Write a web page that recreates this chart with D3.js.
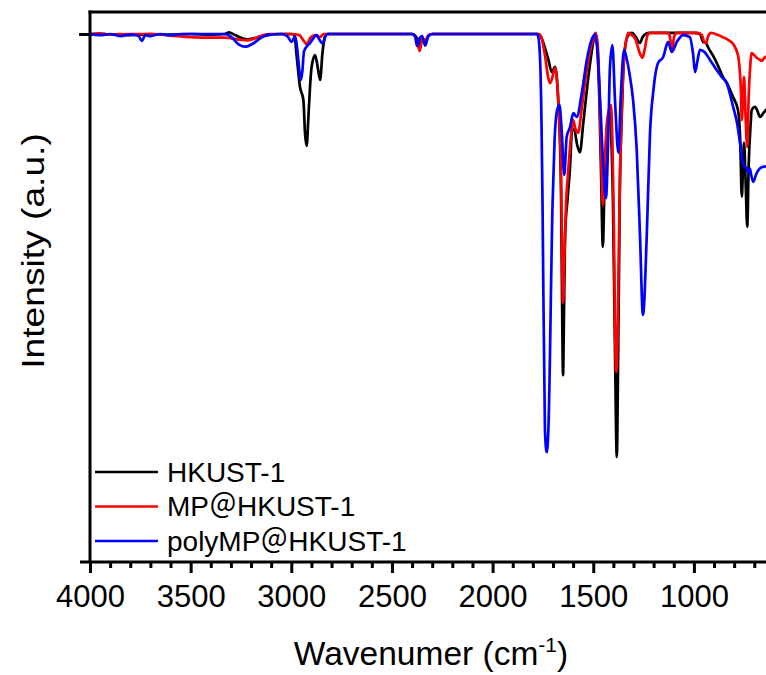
<!DOCTYPE html>
<html>
<head>
<meta charset="utf-8">
<script src="https://cdn.jsdelivr.net/npm/d3@7/dist/d3.min.js"></script>
<style>
  html, body { margin: 0; padding: 0; background: #fff; }
  svg { display: block; }
  text { font-family: "Liberation Sans", Arial, "Noto Sans CJK SC", sans-serif; fill: #000; }
</style>
</head>
<body>
<div id="chart"></div>
<script>
// ---- data (wavenumber cm^-1, intensity a.u.; baseline = 100) ----
const seriesNames = ["HKUST-1", "MP\uFF20HKUST-1", "polyMP\uFF20HKUST-1"];
const seriesColors = ["#000000", "#ff0000", "#0000ff"];

const hkust1 = [
  [4000,100],[3950,100.1],[3900,99.9],[3850,100],[3800,99.8],[3750,99.9],[3700,100],[3600,99.9],
  [3500,100],[3400,99.9],[3330,100],[3310,100.3],[3280,99.8],[3220,99.0],[3160,99.4],[3120,99.8],
  [3050,100],[3000,100],[2985,99.9],[2973,95.7],[2957,90],[2940,87.5],[2932,81.3],[2924,78.8],
  [2915,84.3],[2907,90],[2899,93.8],[2882,96],[2870,94],[2857,91.3],[2845,96.5],[2833,99.5],
  [2820,100],[2500,100],[2400,100],[2375,99.2],[2362,97.9],[2350,99.3],[2335,98.2],[2320,99.6],
  [2300,100],[1800,100],[1775,100],[1760,99.5],[1745,98],[1725,95.5],[1706,92.8],[1690,93.8],
  [1674,87.5],[1660,70],[1655,50],[1650,35.4],[1646,45],[1640,62],[1628,68.6],[1615,75],
  [1605,82],[1595,82],[1580,79],[1566,77.6],[1550,83],[1530,90],[1510,96],[1490,99.8],
  [1480,98],[1470,88],[1462,75],[1452,59.7],[1445,70],[1435,80],[1425,84.5],[1417,85],
  [1410,80],[1402,68],[1392,40],[1383,19.9],[1376,40],[1368,70],[1358,85],[1350,93.5],
  [1335,99],[1320,100],[1307,100.2],[1290,99.5],[1268,98.3],[1255,99.4],[1240,100],[1220,100.2],
  [1100,100.2],[1000,100.2],[970,100],[955,98.5],[940,98.3],[930,97.5],[905,95.9],[880,94],
  [856,91.9],[836,90.7],[806,88.1],[781,85.6],[770,80],[762,69.2],[756,75],[751,79.4],
  [743,72],[735,63.5],[728,75],[718,83],[713,85.6],[696,86.2],[685,85.5],[672,84.3],
  [655,85],[642,85.6],[620,86]
];

const mpHkust1 = [
  [4000,100],[3950,100.1],[3900,99.9],[3800,100],[3700,100],[3600,99.7],[3500,99.4],[3400,99.3],
  [3330,99.3],[3250,98.9],[3220,98.8],[3180,99.2],[3140,99.8],[3100,100],[3000,100],[2960,99.8],
  [2940,98.8],[2924,98.1],[2905,99.3],[2880,99.8],[2857,99.4],[2840,100],[2400,100],[2375,98.5],
  [2362,96.8],[2348,99.2],[2335,98.6],[2320,99.8],[2300,100],[1800,100],[1770,100],[1755,99],
  [1740,96],[1725,92],[1715,90.7],[1705,91.5],[1690,93.6],[1674,87.5],[1660,73.7],[1655,58],
  [1650,49.1],[1643,58],[1635,68],[1625,73.7],[1612,80],[1600,83.7],[1588,82],[1575,81.3],
  [1560,85],[1540,91],[1520,96],[1500,99],[1488,100.2],[1478,98],[1468,88],[1460,76],
  [1452,67.6],[1444,75],[1430,84],[1412,86.6],[1405,80],[1398,65],[1392,45],[1385,36],
  [1378,45],[1368,72],[1358,86],[1350,93.8],[1333,99.4],[1325,100.2],[1315,100],[1290,99],
  [1270,96.5],[1256,95.5],[1245,97],[1230,99.8],[1218,100.2],[1130,100.2],[1120,99.6],[1109,97],
  [1098,99.5],[1085,100.2],[980,100.2],[960,99.8],[950,98.6],[940,98.3],[930,99.5],[915,100.2],
  [880,99.8],[856,99.4],[830,98.9],[805,98.1],[781,96],[772,93],[766,89],[762,83.7],
  [756,88],[751,91.9],[744,85],[735,78.6],[728,88],[720,94],[713,96.4],[700,96],
  [688,95.5],[675,95.2],[663,94.9],[652,95.4],[642,95.7],[620,96]
];

const polyMpHkust1 = [
  [4000,100],[3950,99.8],[3900,100],[3850,99.6],[3800,99.9],[3760,99.7],[3743,98.7],[3725,99.8],
  [3700,99.6],[3650,100],[3600,99.8],[3550,100],[3500,100],[3400,100],[3330,100],[3300,99.5],
  [3260,98],[3230,97.6],[3190,98.2],[3150,99.3],[3120,99.8],[3050,100],[3020,99.6],[2998,98.5],
  [2982,99.5],[2970,97],[2960,93],[2953,91.3],[2945,93],[2937,96.7],[2920,97.8],[2907,98.3],
  [2874,99.8],[2860,98.9],[2844,98.2],[2830,99.6],[2820,100],[2400,100],[2385,99.5],[2375,97.7],
  [2365,99],[2350,99.6],[2335,97.8],[2320,99.5],[2300,100],[1800,100],[1780,100],[1774,99.6],
  [1765,96],[1757,83],[1752,68],[1740,25],[1731,20.8],[1723,25],[1702,68],[1692,80],
  [1680,85.5],[1668,86.6],[1657,81.8],[1644,73.3],[1632,80.5],[1615,82.4],[1599,85],[1582,84.3],
  [1557,88.8],[1532,95.1],[1508,98.9],[1491,100],[1480,97],[1466,87.5],[1450,74.8],[1437,68.9],
  [1425,81.3],[1417,93.8],[1405,97.9],[1392,87.5],[1375,77.5],[1364,87.5],[1347,97],[1335,95.5],
  [1318,92],[1302,87.5],[1284,78],[1268,62],[1253,46.8],[1234,62],[1218,81.3],[1201,89.4],
  [1178,94.5],[1153,95.6],[1128,98.5],[1110,96.6],[1085,98.5],[1054,99.8],[1020,99.4],[1005,96.5],
  [994,92.8],[982,95],[970,97],[945,96.5],[920,95.1],[887,93.2],[860,91.8],[837,90.7],
  [805,86.2],[785,83],[771,79.4],[757,75.6],[746,74.8],[738,74.5],[730,73.7],[722,74.5],
  [715,73.2],[705,72],[692,73.3],[680,74.2],[660,74.8],[647,74.9],[620,75.2]
];

const seriesData = [hkust1, mpHkust1, polyMpHkust1];

const xMajorTicks = [4000, 3500, 3000, 2500, 2000, 1500, 1000];
const xMinorTicks = d3.range(4000, 599, -100).filter(v => v % 500 !== 0);
const yTicks = [100];

// ---- layout ----
const W = 766, H = 675;
const svg = d3.select("#chart").append("svg").attr("width", W).attr("height", H);

const x = d3.scaleLinear().domain([4000, 400]).range([90, 90 + 3600 * 0.2013]);
const y = d3.scaleLinear().domain([0, 104.17]).range([562, 12]);

// plot clip
svg.append("clipPath").attr("id", "clip")
  .append("rect").attr("x", 90).attr("y", 12).attr("width", W - 90).attr("height", 550);

const line = d3.line()
  .x(d => x(d[0]))
  .y(d => y(d[1]))
  .curve(d3.curveMonotoneX);

const gLines = svg.append("g").attr("clip-path", "url(#clip)");
seriesData.forEach((data, i) => {
  gLines.append("path")
    .datum(data)
    .attr("d", line)
    .attr("fill", "none")
    .attr("stroke", seriesColors[i])
    .attr("stroke-width", 2.7)
    .attr("stroke-linejoin", "round");
});

// ---- axes ----
const xAxisMinor = d3.axisBottom(x).tickValues(xMinorTicks).tickSize(6).tickFormat("").tickSizeOuter(0);
const gxm = svg.append("g").attr("transform", `translate(0,${y(0)})`).call(xAxisMinor);
gxm.select(".domain").remove();
gxm.selectAll(".tick line").attr("stroke", "#000").attr("stroke-width", 3);

const xAxis = d3.axisBottom(x).tickValues(xMajorTicks).tickSize(11).tickSizeOuter(0).tickFormat(d3.format("d"));
const gx = svg.append("g").attr("transform", `translate(0,${y(0)})`).call(xAxis);
gx.select(".domain").remove();
gx.selectAll(".tick line").attr("stroke", "#000").attr("stroke-width", 3);
gx.selectAll(".tick text")
  .attr("y", 45).attr("dy", 0)
  .style("font-size", "31px");

const yAxis = d3.axisLeft(y).tickValues(yTicks).tickSize(11).tickFormat("").tickSizeOuter(0);
const gy = svg.append("g").attr("transform", `translate(90,0)`).call(yAxis);
gy.select(".domain").remove();
gy.selectAll(".tick line").attr("stroke", "#000").attr("stroke-width", 3);

// frame lines
svg.append("line").attr("x1", 80).attr("x2", W).attr("y1", y(0)).attr("y2", y(0))
  .attr("stroke", "#000").attr("stroke-width", 3);
svg.append("line").attr("x1", 90).attr("x2", 90).attr("y1", y(104.17) - 1.5).attr("y2", y(0))
  .attr("stroke", "#000").attr("stroke-width", 3);
svg.append("line").attr("x1", 88.5).attr("x2", W).attr("y1", y(104.17)).attr("y2", y(104.17))
  .attr("stroke", "#000").attr("stroke-width", 3);

// axis titles
const xt = svg.append("text")
  .attr("x", 431).attr("y", 665)
  .attr("text-anchor", "middle")
  .style("font-size", "33.5px");
xt.append("tspan").text("Wavenumer (cm");
xt.append("tspan").attr("dy", -13).style("font-size", "21px").text("-1");
xt.append("tspan").attr("dy", 13).text(")");

svg.append("text")
  .attr("transform", "translate(44,251) rotate(-90) scale(1.2,1)")
  .attr("text-anchor", "middle")
  .style("font-size", "31px")
  .text("Intensity (a.u.)");

// legend
const legend = svg.append("g");
seriesNames.forEach((name, i) => {
  const cy = 472 + i * 34.5;
  legend.append("line")
    .attr("x1", 95).attr("x2", 158).attr("y1", cy).attr("y2", cy)
    .attr("stroke", seriesColors[i]).attr("stroke-width", 2.6);
  legend.append("text")
    .attr("x", 167).attr("y", cy + 9.5)
    .style("font-size", "28px")
    .text(name);
});
</script>
</body>
</html>
